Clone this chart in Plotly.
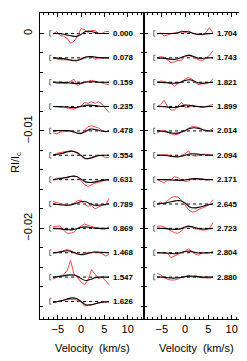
import plotly.graph_objects as go

# velocity grids (km/s)
vel_obs = [-6, -5.25, -4.5, -3.75, -3, -2.25, -1.5, -0.75, 0, 0.75, 1.5, 2.25, 3, 3.75, 4.5, 5.25, 6]
vel_mod = [-6, -5, -4, -3, -2, -1, 0, 1, 2, 3, 4, 5, 6]

# phases
phases_left = ["0.000", "0.078", "0.159", "0.235", "0.478", "0.554", "0.631", "0.789", "0.869", "1.468", "1.547", "1.626"]
phases_right = ["1.704", "1.743", "1.821", "1.899", "2.014", "2.094", "2.171", "2.645", "2.723", "2.804", "2.880"]

# observed profiles (units of 1e-4 Ic, relative to each baseline)
obs_left = [
    [-1, 2, -2, -3, -5, -10, -8, -3, 5, 4, 1, 3, 3, 0, 0, 2, 2],
    [0, -1, -2, -2, -2, -2.3, -2.5, -2.5, -0.5, 0.5, 1, 1.5, -1.5, -0.5, 0.3, 0, 0],
    [0.7, -1.3, -1.3, -1.3, -1.3, 1, 3, -3.7, -1.5, -0.3, 1, 2, 1, 0, -1, -2, -2.7],
    [0, -0.5, -0.7, -0.7, -1.3, -2, -2.7, -0.7, 0.7, 4, 3.3, 5, 3.3, 5, 2.5, -2, -6],
    [-2, -3, -1.3, -1, -0.5, 0.3, -0.5, -2.5, -3, 0.5, 4.5, 5.3, 4.5, 3, 0.5, -1, -0.3],
    [-0.3, 2, 2.7, 3.2, 4, 4.7, 3.7, 1.8, -0.5, -3.2, -3.5, -2, -0.8, 0.3, -0.5, -2.5, -2.3],
    [-1, 1.5, 1.7, 1.7, 1.7, 3, 3.7, 3, -1, -5, -7, -5.5, -3.5, -3, -1.5, -0.3, -0.7],
    [2.7, 1.2, 0.5, -0.5, -1.3, -1.3, 1, 3.3, 4, -0.5, -2.2, -1.5, -5, -3, -1.3, -1.3, 6],
    [1.7, 2, 2.5, -2, -5, -5, -4, 0, 2.5, 4.5, 3, 1.8, 1, 0.3, -1, -0.8, 1.7],
    [-0.3, -0.3, 1, 2.3, 3.3, 2.3, -0.3, -1.5, -1.7, -0.7, 0.5, 0.3, 0.7, 0, -1, -3.3, -1.7],
    [-2, 0, 1.5, 2.3, 6.5, 17, 3, -0.5, -5, -8, -3, 7.5, 3.5, -1.5, 0, -3.5, -7.7],
    [-1.3, -0.5, 0.5, 1.5, 2, 2, 2, 1, -0.5, -4.7, -3.7, -3.5, -2.2, -1.5, -0.7, -0.3, -0.3],
]
obs_right = [
    [-0.7, 0.5, -2.5, -1.5, -0.5, 0.7, 0, 2.7, 0.7, 2.7, 0.5, -0.5, -0.3, -1.5, 1, 6, 0],
    [-0.3, 1.3, 0.5, -2, -5, -4, -2.7, -2.5, 1.5, 3, 1, -0.7, -2.2, -2.7, -0.5, 2.5, 7.3],
    [-0.3, 1.3, 0.7, 0, -1.3, -4, -1.3, 0.3, 3, 4.7, 3.3, -0.5, -2.5, -1.5, -1.8, -0.3, 3.7],
    [0, 2, 6.5, 0, -3.5, -3.5, 0.5, 4.5, -0.5, -1, 1.5, 0.5, 0, -1, 0, 1, 2.3],
    [-2.3, 0, 0.7, -1.3, -3, -4, -3.3, -1.3, -0.5, 2.8, 4.3, 4.3, 3.5, 1.5, -0.5, 0.3, 2.7],
    [0, 0.3, 0.7, 0.7, -1.5, -1.3, -2, 0, 1.5, 4.5, 0, -1, 0.5, 1.2, 1, 0.5, 0],
    [0.3, -1.3, -3.5, -0.5, -0.3, 3, 2, -0.5, -1.8, -1.5, 1, 0.8, 0.7, 0.7, -0.3, 0, 0.3],
    [0, 2, 0, 3.5, 6.5, 7.7, 7, 4, -1.3, -6, -8.3, -7.7, -5.5, -4.2, -2.5, -0.5, 4.3],
    [2, 2.5, 1.5, -0.5, -3, -4.5, -5, -2.5, 1, 2.7, 1, -0.5, -0.7, -1.8, -1.5, 0, 6],
    [-0.3, -0.3, -0.7, -0.8, -5, -3, -1.5, 0, 1.5, 4, 1.5, -1.5, -2.5, 0.5, 0, -0.3, 1.7],
    [3.7, 2.5, -0.5, -2.3, -3, -3, -2, 0, 0.5, 1.8, 0, 1.8, 0, -0.8, -0.8, -1, -0.3],
]

# model profiles (units of 1e-4 Ic)
mod_left = [
    [0, 0, -0.5, -1.5, -2.5, -3, -1, 2, 2.3, 1, 0, 0, 0],
    [0, -0.3, -0.8, -1.5, -2.6, -3, -1.5, 0.8, 1.3, 0.8, 0.2, 0, 0],
    [0, 0, -0.2, -0.5, -1, -1.5, -1, 0.2, 0.5, 0.3, 0, 0, 0],
    [0, 0, -0.2, -0.5, -1, -1, 0, 1.2, 1.5, 1, 0.3, 0, 0],
    [0, 0.3, 0.5, 0.3, -0.5, -2, -2.5, -0.5, 1.8, 1.5, 0.3, -0.5, -0.3],
    [0.3, 1, 2, 3.5, 4.3, 3, 0, -3.5, -3, -1.5, -0.3, 0, 0],
    [0, 0.7, 1.5, 2.5, 3.5, 3.3, 0.5, -2.3, -3, -2.3, -1.3, -0.5, 0],
    [0, -0.5, -1, -1.3, -0.8, 0.7, 2.3, 2.3, 0.3, -1.3, -1.2, -0.5, 0],
    [0, -0.3, -0.8, -1.3, -1.5, -0.5, 1, 1.5, 0.8, 0.2, 0, 0, 0],
    [0, 0.5, 1.3, 2, 1.3, -0.7, -2, -1.3, 0, 0.7, 0.5, 0.2, 0],
    [0, 0.5, 1.2, 2, 2.3, 1.3, -1.5, -3.5, -2.5, -0.7, 0, 0, 0],
    [-1, 0, 1, 2.5, 3.7, 3, 0, -3.3, -3.5, -2.3, -1.2, -0.5, -0.2],
]
mod_right = [
    [0, 0, 0, 0, 0.3, 1.5, 2, 1.3, -0.3, -1, -0.7, -0.2, 0],
    [0, -0.3, -0.8, -1.5, -1.5, 0, 1.8, 2.5, 1, -0.5, -0.5, 0, 0],
    [0, -0.2, -0.5, -1, -1, 0, 1.8, 2.5, 1, -0.8, -1, -0.3, 0],
    [0, 0, -0.3, -1, -0.8, 0.3, 1.5, 1.2, 0.3, -0.2, -0.3, 0, 0],
    [0, -0.3, -1, -2, -2.5, -1.5, 0.5, 2.5, 3.3, 2.5, 1, 0, 0],
    [0, 0, -0.3, -1, -1.5, -1.3, 0, 1.3, 1.5, 1, 0.5, 0.2, 0],
    [0, 0, 0, -0.3, -0.5, -0.7, -0.3, 0.5, 1, 0.8, 0.3, 0, 0],
    [0, 0.5, 1.2, 2.3, 3.2, 3.3, 1, -3, -4, -3.3, -2, -0.8, 0],
    [0, 0, -0.3, -0.8, -1, -0.5, 1.5, 2, 1, -0.3, -0.7, -0.3, 0],
    [0, 0, -0.3, -0.7, -1, 0, 1.3, 1.7, 0.5, -0.3, -0.3, 0, 0],
    [0, 0, -0.5, -1, -1, -0.5, 0.5, 1, 0.7, 0.2, 0, 0, 0],
]

SHIFT = 0.0025      # vertical spacing between profiles
UNIT = 1e-4
ERR = 0.00028       # half-size of the error bar
ERR_X = -6.7
LABEL_X = 9.0

W, H = 247, 361
ML, MR, MT, MB = 32, 7, 5, 50
PW, PH = W - ML - MR, H - MT - MB

def px_to_paper(px, py):
    return (px - ML) / PW, (H - MB - py) / PH

fig = go.Figure()
annotations = []

def add_panel(obs, mod, phases, xa, ya):
    ex, ey = [], []
    for i, (o, m, ph) in enumerate(zip(obs, mod, phases)):
        off = -SHIFT * i
        fig.add_trace(go.Scatter(x=[vel_obs[0], vel_obs[-1]], y=[off, off], mode="lines",
                                 line=dict(color="black", width=1, dash="dot"),
                                 xaxis=xa, yaxis=ya, hoverinfo="skip"))
        fig.add_trace(go.Scatter(x=vel_obs, y=[off + v * UNIT for v in o], mode="lines",
                                 line=dict(color="#ff4a4a", width=1),
                                 xaxis=xa, yaxis=ya))
        fig.add_trace(go.Scatter(x=vel_mod, y=[off + v * UNIT for v in m], mode="lines",
                                 line=dict(color="black", width=1.1, shape="spline"),
                                 xaxis=xa, yaxis=ya))
        ex += [ERR_X + 0.35, ERR_X, ERR_X, ERR_X + 0.35, None]
        ey += [off + ERR, off + ERR, off - ERR, off - ERR, None]
        annotations.append(dict(x=LABEL_X, y=off, xref=xa, yref=ya, text="<b>" + ph + "</b>",
                                showarrow=False,
                                font=dict(size=8, family="Liberation Sans", color="black"),
                                xanchor="center", yanchor="middle"))
    fig.add_trace(go.Scatter(x=ex, y=ey, mode="lines", line=dict(color="#444444", width=0.8),
                             xaxis=xa, yaxis=ya))

add_panel(obs_left, mod_left, phases_left, "x", "y")
add_panel(obs_right, mod_right, phases_right, "x2", "y2")

xcommon = dict(range=[-8.8, 13.5], tickvals=[-5, 0, 5, 10], ticks="inside", ticklen=4,
               tickcolor="black", tickwidth=1,
               minor=dict(tick0=0, dtick=1, ticks="inside", ticklen=2, tickcolor="black"),
               showline=True, linecolor="black", linewidth=1, mirror="ticks",
               showgrid=False, zeroline=False,
               tickfont=dict(size=11, family="Liberation Sans", color="black"))
ycommon = dict(range=[-0.0293, 0.0021], ticks="inside", ticklen=4, tickcolor="black", tickwidth=1,
               tickvals=[0, -0.01, -0.02],
               minor=dict(tick0=0, dtick=0.002, ticks="inside", ticklen=3, tickcolor="black"),
               showline=True, linecolor="black", linewidth=1, mirror="ticks",
               showgrid=False, zeroline=False,
               tickfont=dict(size=11, family="Liberation Sans", color="black"))

ytx, yty = px_to_paper(8, 155)
v1x, v1y = px_to_paper(84, 340)
v2x, _ = px_to_paper(188, 340)
title_font = dict(size=11, family="Liberation Sans", color="black")

annotations += [
    dict(x=ytx, y=yty, xref="paper", yref="paper", text="RI/I<sub>c</sub>", showarrow=False,
         textangle=-90, font=title_font, xanchor="center", yanchor="middle"),
    dict(x=v1x, y=v1y, xref="paper", yref="paper", text="Velocity  (km/s)", showarrow=False,
         font=title_font, xanchor="center", yanchor="middle"),
    dict(x=v2x, y=v1y, xref="paper", yref="paper", text="Velocity  (km/s)", showarrow=False,
         font=title_font, xanchor="center", yanchor="middle"),
]

fig.update_layout(
    width=W, height=H,
    margin=dict(l=ML, r=MR, t=MT, b=MB),
    paper_bgcolor="white", plot_bgcolor="white",
    showlegend=False,
    xaxis=dict(domain=[0, 0.5], anchor="y", **xcommon),
    xaxis2=dict(domain=[0.5, 1], anchor="y2", **xcommon),
    yaxis=dict(domain=[0, 1], anchor="x", ticktext=["0", "\u22120.01", "\u22120.02"],
               tickangle=-90, ticklabelstandoff=3, **ycommon),
    yaxis2=dict(domain=[0, 1], anchor="x2", showticklabels=False, **ycommon),
    annotations=annotations,
)

fig.write_html("out.html")
